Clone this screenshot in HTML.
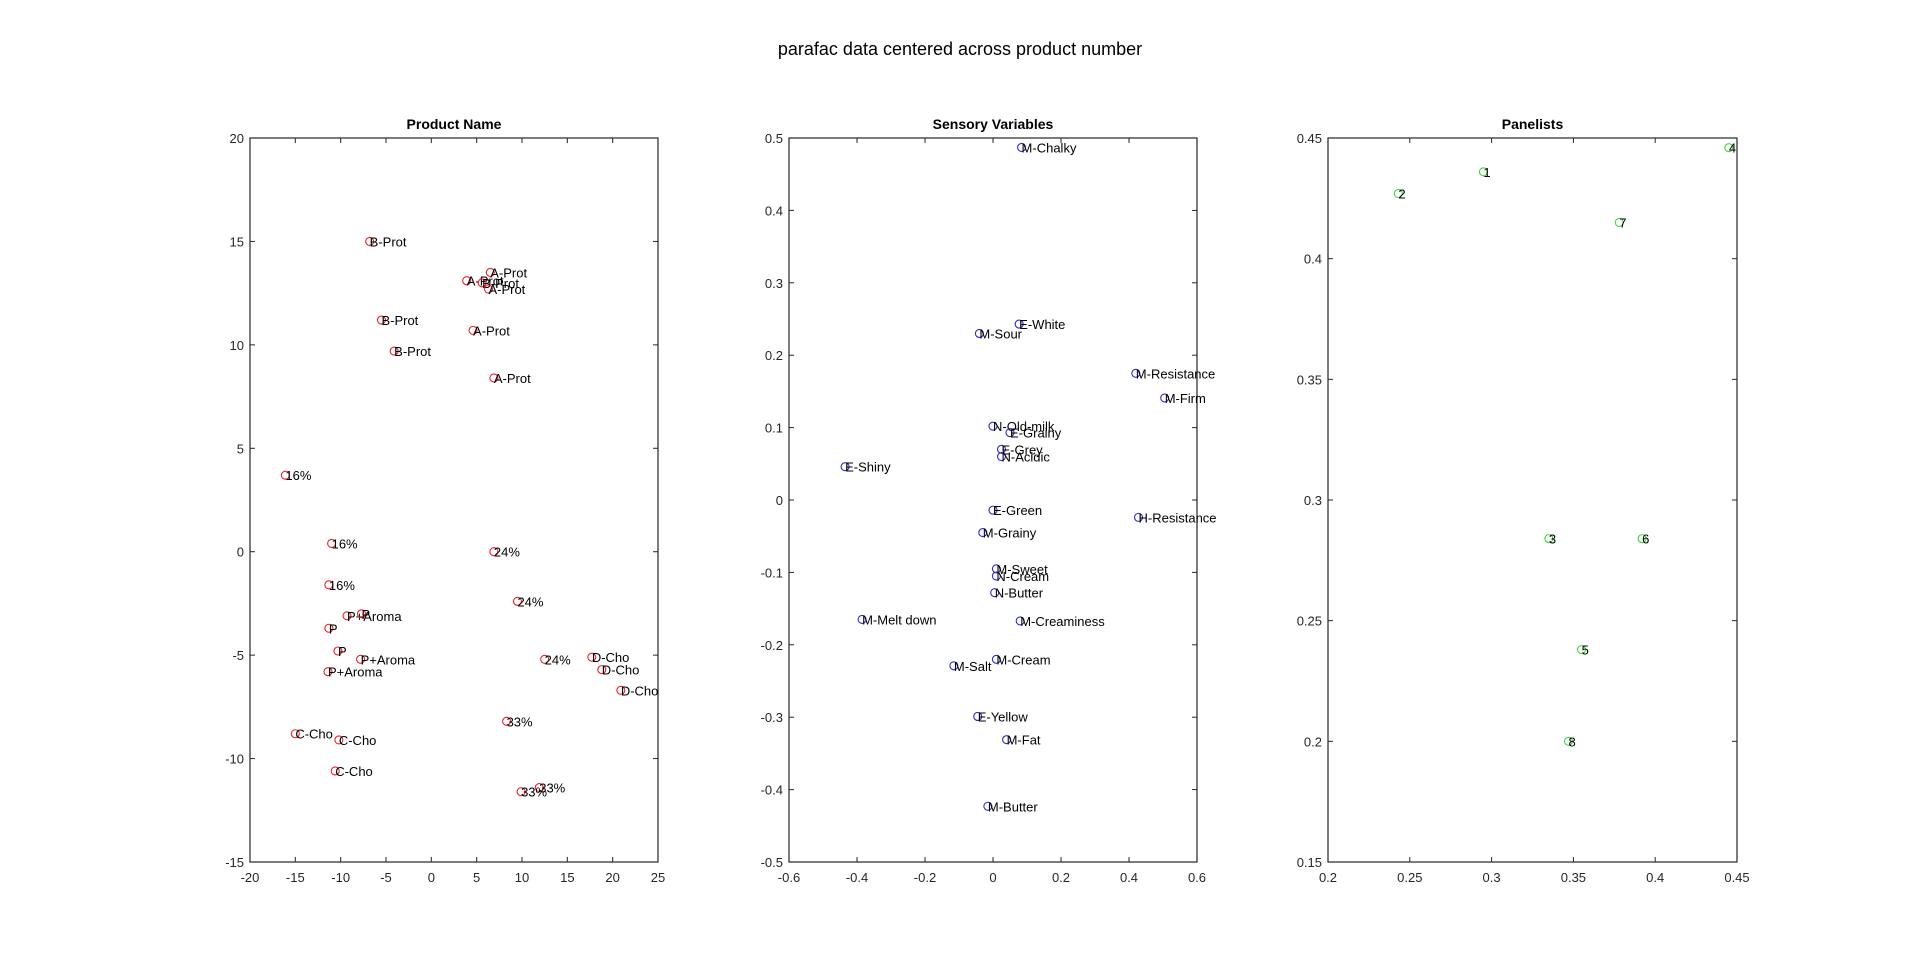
<!DOCTYPE html>
<html><head><meta charset="utf-8"><style>
html,body{margin:0;padding:0;background:#fff;}
svg{display:block;font-family:"Liberation Sans",Arial,sans-serif;}
</style></head><body>
<svg id="fig" width="1920" height="963" viewBox="0 0 1920 963" xmlns="http://www.w3.org/2000/svg">
<rect width="1920" height="963" fill="#fff"/>
<text x="960" y="55" font-size="18" text-anchor="middle" fill="#000">parafac data centered across product number</text>
</svg>
<script>
// Product Name panel
const prodLabels=["B-Prot","A-Prot","A-Prot","B-Prot","A-Prot","B-Prot","A-Prot","B-Prot","A-Prot","16%","16%","24%","16%","24%","P+Aroma","P","P","P","24%","P+Aroma","D-Cho","D-Cho","P+Aroma","D-Cho","33%","C-Cho","C-Cho","C-Cho","33%","33%"];
const prodX=[-6.8,6.5,3.9,5.6,6.3,-5.5,4.6,-4.1,6.9,-16.1,-11,6.9,-11.3,9.5,-9.3,-7.7,-11.3,-10.3,12.5,-7.8,17.7,18.8,-11.4,20.9,8.3,-15,-10.2,-10.6,11.9,9.9];
const prodY=[15.0,13.5,13.1,13.0,12.7,11.2,10.7,9.7,8.4,3.7,0.4,0.0,-1.6,-2.4,-3.1,-3.0,-3.7,-4.8,-5.2,-5.2,-5.1,-5.7,-5.8,-6.7,-8.2,-8.8,-9.1,-10.6,-11.4,-11.6];
const prodXTicks=[-20,-15,-10,-5,0,5,10,15,20,25];
const prodYTicks=[-15,-10,-5,0,5,10,15,20];
// Sensory Variables panel
const sensLabels=["M-Chalky","E-White","M-Sour","M-Resistance","M-Firm","N-Old-milk","E-Grainy","E-Grey","N-Acidic","E-Shiny","E-Green","H-Resistance","M-Grainy","M-Sweet","N-Cream","N-Butter","M-Melt down","M-Creaminess","M-Cream","M-Salt","E-Yellow","M-Fat","M-Butter"];
const sensX=[0.084,0.077,-0.04,0.42,0.505,0.0,0.05,0.025,0.025,-0.435,0.0,0.428,-0.03,0.01,0.01,0.005,-0.385,0.08,0.01,-0.115,-0.045,0.04,-0.015];
const sensY=[0.487,0.243,0.23,0.175,0.141,0.102,0.093,0.07,0.06,0.046,-0.014,-0.024,-0.045,-0.095,-0.105,-0.128,-0.165,-0.167,-0.22,-0.229,-0.299,-0.331,-0.423];
const sensXTicks=[-0.6,-0.4,-0.2,0,0.2,0.4,0.6];
const sensYTicks=[-0.5,-0.4,-0.3,-0.2,-0.1,0,0.1,0.2,0.3,0.4,0.5];
// Panelists panel
const panLabels=["4","1","2","7","3","6","5","8"];
const panX=[0.445,0.295,0.243,0.378,0.335,0.392,0.355,0.347];
const panY=[0.446,0.436,0.427,0.415,0.284,0.284,0.238,0.200];
const panXTicks=[0.2,0.25,0.3,0.35,0.4,0.45];
const panYTicks=[0.15,0.2,0.25,0.3,0.35,0.4,0.45];

const NS="http://www.w3.org/2000/svg";
const svg=document.getElementById('fig');
function mk(tag,attrs,parent){const e=document.createElementNS(NS,tag);for(const k in attrs)e.setAttribute(k,attrs[k]);(parent||svg).appendChild(e);return e;}
const TOP=138,BOT=862;
function panel(key,title,left,right,xd,yd,xt,yt,xs,ys,labs,color){
  const g=mk('g',{});
  
  
  const sx=v=>left+(v-xd[0])/(xd[1]-xd[0])*(right-left);
  const sy=v=>BOT-(v-yd[0])/(yd[1]-yd[0])*(BOT-TOP);
  const fr=mk('rect',{x:left,y:TOP,width:right-left,height:BOT-TOP,fill:'none',stroke:'#262626','stroke-width':1.2},g);
  
  
  const t=mk('text',{x:(left+right)/2,y:129,'font-size':14,'font-weight':'bold','text-anchor':'middle',fill:'#000'},g);
  t.textContent=title;
  
  
  xt.forEach(v=>{const x=sx(v);
    mk('line',{x1:x,y1:BOT,x2:x,y2:BOT-5,stroke:'#262626'},g);
    mk('line',{x1:x,y1:TOP,x2:x,y2:TOP+5,stroke:'#262626'},g);
    const l=mk('text',{x:x,y:BOT+20,'font-size':13,'text-anchor':'middle',fill:'#262626'},g);
    l.textContent=String(v);
    
    
  });
  yt.forEach(v=>{const y=sy(v);
    mk('line',{x1:left,y1:y,x2:left+5,y2:y,stroke:'#262626'},g);
    mk('line',{x1:right,y1:y,x2:right-5,y2:y,stroke:'#262626'},g);
    const l=mk('text',{x:left-6,y:y+5,'font-size':13,'text-anchor':'end',fill:'#262626'},g);
    l.textContent=String(v);
    
    
  });
  xs.forEach((v,i)=>{const x=sx(v),y=sy(ys[i]);
    const c=mk('circle',{cx:x,cy:y,r:4,fill:'none',stroke:color,'stroke-width':1.1},g);
    
    
    const l=mk('text',{x:x,y:y+5,'font-size':13,fill:'#000'},g);
    l.textContent=labs[i];
    
    
  });
}
panel('product','Product Name',250,658,[-20,25],[-15,20],prodXTicks,prodYTicks,prodX,prodY,prodLabels,'#e8202a');
panel('sensory','Sensory Variables',789,1197,[-0.6,0.6],[-0.5,0.5],sensXTicks,sensYTicks,sensX,sensY,sensLabels,'#2a2ac8');
panel('panelists','Panelists',1328,1737,[0.2,0.45],[0.15,0.45],panXTicks,panYTicks,panX,panY,panLabels,'#3ed83e');
</script>
</body></html>
